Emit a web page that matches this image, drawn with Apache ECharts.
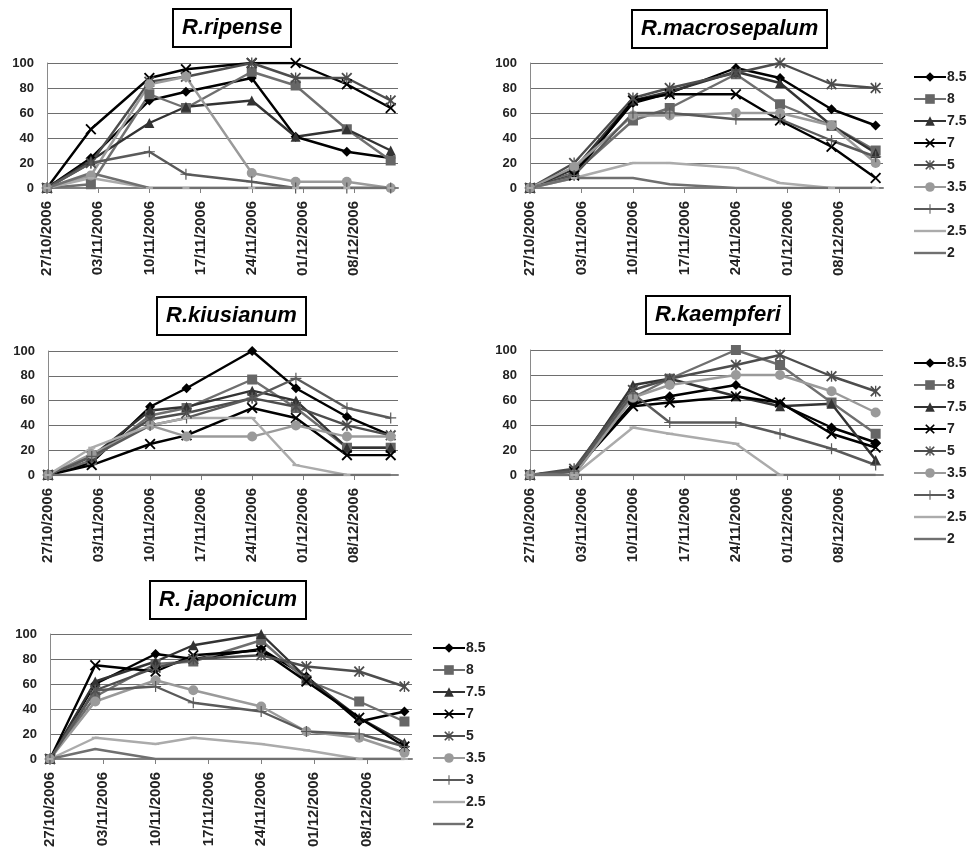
<!DOCTYPE html>
<html>
<head>
<meta charset="utf-8">
<script src="https://cdn.jsdelivr.net/npm/echarts@6.0.0/dist/echarts.min.js"></script>
<style>
html,body{margin:0;padding:0;background:#fff;}
#chart{width:970px;height:847px;}
</style>
</head>
<body>
<div id="chart"></div>
<script>
// ---- data ----
const tickDays = [0, 7, 14, 21, 28, 35, 42];
const tickLabels = ['27/10/2006', '03/11/2006', '10/11/2006', '17/11/2006', '24/11/2006', '01/12/2006', '08/12/2006'];
const sampleDays = [0, 6, 14, 19, 28, 34, 41, 47]; // days after 27/10/2006
const seriesNames = ['8.5', '8', '7.5', '7', '5', '3.5', '3', '2.5', '2'];

const ripense = [
  [0, 24, 70, 77, 88, 41, 29, 24],
  [0, 3, 75, 64, 93, 82, 47, 22],
  [0, 22, 52, 65, 70, 41, 47, 30],
  [0, 47, 88, 95, 100, 100, 83, 64],
  [0, 20, 85, 89, 100, 88, 88, 70],
  [0, 10, 83, 89, 12, 5, 5, 0],
  [0, 20, 29, 11, 5, 0, 0, 0],
  [0, 8, 0, 0, 0, 0, 0, 0],
  [0, 12, 0, 0, 0, 0, 0, 0]
];
const macrosepalum = [
  [0, 12, 68, 76, 96, 88, 63, 50],
  [0, 12, 54, 64, 91, 67, 50, 30],
  [0, 15, 70, 77, 93, 84, 50, 28],
  [0, 10, 70, 75, 75, 54, 33, 8],
  [0, 20, 72, 80, 92, 100, 83, 80],
  [0, 17, 58, 58, 60, 60, 50, 20],
  [0, 10, 60, 60, 55, 55, 38, 25],
  [0, 8, 20, 20, 16, 4, 0, 0],
  [0, 8, 8, 3, 0, 0, 0, 0]
];
const kiusianum = [
  [0, 10, 55, 70, 100, 70, 47, 32],
  [0, 12, 48, 54, 77, 54, 22, 22],
  [0, 15, 52, 55, 68, 60, 22, 22],
  [0, 8, 25, 32, 54, 46, 16, 16],
  [0, 15, 45, 50, 62, 55, 40, 32],
  [0, 17, 40, 31, 31, 40, 31, 31],
  [0, 15, 40, 46, 62, 78, 54, 46],
  [0, 22, 40, 46, 46, 8, 0, null],
  [0, 0, 0, 0, 0, 0, 0, 0]
];
const kaempferi = [
  [0, 3, 57, 63, 72, 57, 38, 26],
  [0, 0, 62, 77, 100, 88, 58, 33],
  [0, 3, 72, 77, 63, 55, 57, 12],
  [0, 3, 55, 58, 63, 58, 33, 22],
  [0, 5, 68, 77, 88, 96, 79, 67],
  [0, 0, 62, 72, 80, 80, 67, 50],
  [0, 3, 65, 42, 42, 33, 21, 8],
  [0, 0, 38, 33, 25, 0, null, null],
  [0, 0, 0, 0, 0, 0, 0, 0]
];
const japonicum = [
  [0, 60, 84, 80, 88, 66, 30, 38],
  [0, 50, 76, 78, 95, 63, 46, 30],
  [0, 62, 78, 91, 100, 65, 33, 13],
  [0, 75, 70, 83, 87, 62, 33, 10],
  [0, 55, 73, 80, 83, 74, 70, 58],
  [0, 46, 63, 55, 42, 22, 17, 5],
  [0, 55, 58, 45, 38, 22, 20, 10],
  [0, 17, 12, 17, 12, 7, 0, 0],
  [0, 8, 0, 0, 0, 0, 0, 0]
];
const speciesNames = ['R.ripense', 'R.macrosepalum', 'R.kiusianum', 'R.kaempferi', 'R. japonicum'];
const speciesData = [ripense, macrosepalum, kiusianum, kaempferi, japonicum];

// ---- layout & style ----
const FONT = 'Liberation Sans';
const grids = [
  {left: 47, top: 63, width: 351, height: 125},
  {left: 530, top: 63, width: 353, height: 125},
  {left: 48, top: 351, width: 350, height: 124},
  {left: 530, top: 350, width: 353, height: 125},
  {left: 50, top: 634, width: 362, height: 125}
];
const titlePos = [
  {left: 173, top: 9},
  {left: 632, top: 10},
  {left: 157, top: 297},
  {left: 646, top: 296},
  {left: 150, top: 581}
];
const legendPos = [
  {left: 913, top: 70},
  {left: 913, top: 356},
  {left: 432, top: 641}
];
const X_PATH = 'path://M0,1.2 L1.2,0 L5,3.8 L8.8,0 L10,1.2 L6.2,5 L10,8.8 L8.8,10 L5,6.2 L1.2,10 L0,8.8 L3.8,5 Z';
const AST_PATH = 'path://M0,1.2 L1.2,0 L5,3.8 L8.8,0 L10,1.2 L6.2,5 L10,8.8 L8.8,10 L5,6.2 L1.2,10 L0,8.8 L3.8,5 Z M4.4,0 L5.6,0 L5.6,10 L4.4,10 Z';
const PLUS_PATH = 'path://M4.45,0 L5.55,0 L5.55,4.45 L10,4.45 L10,5.55 L5.55,5.55 L5.55,10 L4.45,10 L4.45,5.55 L0,5.55 L0,4.45 L4.45,4.45 Z';
const DASH_PATH = 'path://M0,0 L10,0 L10,3 L0,3 Z';
const THIN_PATH = 'path://M0,0 L10,0 L10,1 L0,1 Z';
const LEG_BAR = 'path://M0,0 L32,0 L32,2.4 L0,2.4 Z';
const styles = [
  {line: '#000000', mark: '#000000', symbol: 'diamond', size: 10, show: true},
  {line: '#6f6f6f', mark: '#666666', symbol: 'rect', size: 10, show: true},
  {line: '#333333', mark: '#333333', symbol: 'triangle', size: 10, show: true},
  {line: '#000000', mark: '#000000', symbol: X_PATH, size: 11, show: true},
  {line: '#4d4d4d', mark: '#4d4d4d', symbol: AST_PATH, size: 11, show: true},
  {line: '#9a9a9a', mark: '#9a9a9a', symbol: 'circle', size: 10, show: true},
  {line: '#5a5a5a', mark: '#5a5a5a', symbol: PLUS_PATH, size: 11, show: true},
  {line: '#ababab', mark: '#ababab', symbol: DASH_PATH, size: 7, show: true, legendIcon: LEG_BAR},
  {line: '#707070', mark: '#707070', symbol: THIN_PATH, size: 8, show: false, legendIcon: LEG_BAR}
];

const option = {
  animation: false,
  backgroundColor: '#ffffff',
  title: [], grid: [], xAxis: [], yAxis: [], series: [], legend: []
};

speciesData.forEach((rows, gi) => {
  option.grid.push(Object.assign({containLabel: false, outerBoundsMode: 'none'}, grids[gi]));
  option.title.push({
    text: speciesNames[gi],
    left: titlePos[gi].left, top: titlePos[gi].top,
    borderColor: '#000', borderWidth: 2, padding: [7, 9, 7, 9],
    textStyle: {fontFamily: FONT, fontStyle: 'italic', fontWeight: 'bold', fontSize: 22, lineHeight: 24, color: '#000'}
  });
  option.xAxis.push({
    type: 'value', gridIndex: gi, min: 0, max: 48, interval: 7,
    axisLine: {show: true, onZero: false, lineStyle: {color: '#808080', width: 2}},
    axisTick: {show: true, customValues: tickDays, length: 5, lineStyle: {color: '#808080', width: 1}},
    axisLabel: {
      customValues: tickDays, rotate: 90, margin: 13,
      formatter: v => tickLabels[tickDays.indexOf(v)] || '',
      fontFamily: FONT, fontWeight: 'bold', fontSize: 15, color: '#222'
    },
    splitLine: {show: false}
  });
  option.yAxis.push({
    type: 'value', gridIndex: gi, min: 0, max: 100, interval: 20,
    axisLine: {show: true, lineStyle: {color: '#8a8a8a', width: 1}},
    axisTick: {show: false},
    axisLabel: {margin: 13, fontFamily: FONT, fontWeight: 'bold', fontSize: 13, color: '#222'},
    splitLine: {show: true, lineStyle: {color: '#6e6e6e', width: 1}}
  });
  rows.forEach((vals, si) => {
    const st = styles[si];
    option.series.push({
      type: 'line', name: seriesNames[si], xAxisIndex: gi, yAxisIndex: gi,
      data: sampleDays.map((d, j) => [d, vals[j]]),
      symbol: st.symbol, symbolSize: st.size, showSymbol: st.show,
      symbolKeepAspect: true,
      lineStyle: {color: st.line, width: 2.4},
      itemStyle: {color: st.mark},
      emphasis: {disabled: true},
      connectNulls: false
    });
  });
});

const legendData = seriesNames.map((n, i) => styles[i].legendIcon ? {name: n, icon: styles[i].legendIcon} : {name: n});

legendPos.forEach(p => {
  option.legend.push({
    orient: 'vertical', left: p.left, top: p.top, padding: 0,
    itemWidth: 32, itemHeight: 12, itemGap: 8, symbolKeepAspect: true,
    data: legendData, selectedMode: false,
    textStyle: {fontFamily: FONT, fontWeight: 'bold', fontSize: 14, color: '#222', padding: [0, 0, 0, -4]}
  });
});

const chart = echarts.init(document.getElementById('chart'), null, {renderer: 'canvas'});
chart.setOption(option);
</script>
</body>
</html>
